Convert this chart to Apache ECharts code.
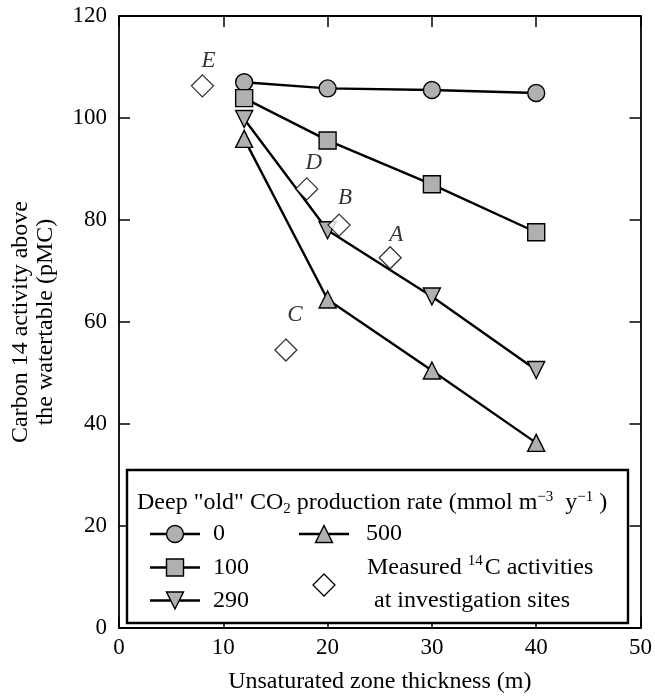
<!DOCTYPE html>
<html><head><meta charset="utf-8">
<script src="https://cdn.jsdelivr.net/npm/echarts@6/dist/echarts.min.js"></script>
<style>html,body{margin:0;padding:0;background:#fff}#c{width:655px;height:699px}</style>
</head><body><div id="c"></div>
<script>
// ---- data ----
const thickness = [12, 20, 30, 40];
const rate0   = [107.0, 105.8, 105.5, 104.9];
const rate100 = [103.9, 95.6, 87.0, 77.6];
const rate290 = [99.8, 78.0, 65.0, 50.6];
const rate500 = [95.9, 64.4, 50.5, 36.3];
const siteNames = ['A', 'B', 'C', 'D', 'E'];
const siteX = [26.0, 21.1, 16.0, 18.0, 8.0];
const siteY = [72.6, 79.0, 54.5, 86.1, 106.3];
const xTicks = [0, 10, 20, 30, 40, 50];
const yTicks = [0, 20, 40, 60, 80, 100, 120];

// ---- styling ----
const FONT = '"Liberation Serif", "DejaVu Serif", serif';
const GRAY = '#b0b0b0';
const labelOffsets = { A: [6, -23], B: [6, -27], C: [9, -35], D: [7, -26], E: [6, -25] };

const chart = echarts.init(document.getElementById('c'), null, { renderer: 'canvas' });

function lineSeries(name, ys, symbol, rotate) {
  return {
    name, type: 'line',
    data: thickness.map((x, i) => [x, ys[i]]),
    symbol, symbolSize: 17, symbolRotate: rotate || 0,
    showSymbol: true,
    lineStyle: { color: '#000', width: 2.4 },
    itemStyle: { color: GRAY, borderColor: '#000', borderWidth: 1.4 },
    z: 3, animation: false
  };
}

const axisCommon = {
  axisLine: { show: true, onZero: false, lineStyle: { color: '#000', width: 1.8 } },
  axisTick: { show: true, inside: true, length: 11, lineStyle: { color: '#000', width: 1.5 } },
  splitLine: { show: false }
};

const gx = 127, gy = 470, gw = 501, gh = 153;
const rowY = [534, 567.5, 600.5];
const c1 = 175, c2 = 324;
function seg(cx, cy) {
  return { type: 'line', shape: { x1: cx - 25, y1: cy, x2: cx + 25, y2: cy }, style: { stroke: '#000', lineWidth: 2.4 }, z: 101 };
}
const symStyle = { fill: GRAY, stroke: '#000', lineWidth: 1.4 };
function tri(cx, cy, up) {
  const h = 8.5;
  return { type: 'polygon', shape: { points: up ? [[cx, cy - h], [cx + h, cy + h], [cx - h, cy + h]] : [[cx - h, cy - h], [cx + h, cy - h], [cx, cy + h]] }, style: symStyle, z: 102 };
}
const LFONT = '24px ' + FONT;
const txt = (x, y, text, rich) => ({ type: 'text', x, y, z: 103,
  style: { text, font: LFONT, fill: '#000', verticalAlign: 'middle', align: 'left', rich: rich || undefined } });
const supStyle = { fontSize: 15, fontFamily: FONT, padding: [0, 0, 12, 0], fill: '#000' };
const subStyle = { fontSize: 15, fontFamily: FONT, padding: [12, 0, 0, 0], fill: '#000' };

const option = {
  animation: false,
  backgroundColor: '#fff',
  grid: { left: 117, right: 14, top: 16, bottom: 65 },
  xAxis: [
    Object.assign({}, axisCommon, {
      type: 'value', min: 0, max: 50, interval: 10, position: 'bottom',
      axisLabel: { fontFamily: FONT, fontSize: 23, color: '#000', margin: 8 },
      name: 'Unsaturated zone thickness (m)', nameLocation: 'middle', nameGap: 42,
      nameTextStyle: { fontFamily: FONT, fontSize: 24, color: '#000' }
    }),
    Object.assign({}, axisCommon, {
      type: 'value', min: 0, max: 50, interval: 10, position: 'top',
      axisLabel: { show: false }
    })
  ],
  yAxis: [
    Object.assign({}, axisCommon, {
      type: 'value', min: 0, max: 120, interval: 20, position: 'left',
      axisLabel: { fontFamily: FONT, fontSize: 23, color: '#000', margin: 12 },
      name: 'Carbon 14 activity above\nthe watertable (pMC)', nameLocation: 'middle', nameGap: 61,
      nameTextStyle: { fontFamily: FONT, fontSize: 24, color: '#000', lineHeight: 25 }
    }),
    Object.assign({}, axisCommon, {
      type: 'value', min: 0, max: 120, interval: 20, position: 'right',
      axisLabel: { show: false }
    })
  ],
  series: [
    lineSeries('0', rate0, 'circle'),
    lineSeries('100', rate100, 'rect'),
    lineSeries('290', rate290, 'triangle', 180),
    lineSeries('500', rate500, 'triangle'),
    {
      name: 'Measured', type: 'scatter',
      data: siteNames.map((n, i) => ({
        name: n, value: [siteX[i], siteY[i]],
        label: { show: true, position: 'inside', offset: labelOffsets[n], formatter: '{b}',
          fontFamily: FONT, fontStyle: 'italic', fontSize: 23, color: '#000', textBorderWidth: 0 }
      })),
      symbol: 'diamond', symbolSize: [22, 22],
      itemStyle: { color: '#fff', borderColor: '#000', borderWidth: 1.3 },
      z: 4
    }
  ],
  graphic: [
    { type: 'rect', shape: { x: gx, y: gy, width: gw, height: gh }, style: { fill: '#fff', stroke: '#000', lineWidth: 2.4 }, z: 100 },
    txt(137, 503, 'Deep "old" CO{sub|2} production rate (mmol m{sup|−3}  y{sup|−1} )', { sub: subStyle, sup: supStyle }),
    seg(c1, rowY[0]), { type: 'circle', shape: { cx: c1, cy: rowY[0], r: 8.5 }, style: symStyle, z: 102 }, txt(213, rowY[0], '0'),
    seg(c1, rowY[1]), { type: 'rect', shape: { x: c1 - 8.5, y: rowY[1] - 8.5, width: 17, height: 17 }, style: symStyle, z: 102 }, txt(213, rowY[1], '100'),
    seg(c1, rowY[2]), tri(c1, rowY[2], false), txt(213, rowY[2], '290'),
    seg(c2, rowY[0]), tri(c2, rowY[0], true), txt(366, rowY[0], '500'),
    { type: 'polygon', shape: { points: [[c2, 574], [c2 + 11, 585], [c2, 596], [c2 - 11, 585]] }, style: { fill: '#fff', stroke: '#000', lineWidth: 1.3 }, z: 102 },
    txt(367, rowY[1], 'Measured {sup|14}C activities', { sup: Object.assign({}, supStyle, { padding: [0, 2, 12, 0] }) }),
    txt(374, rowY[2], 'at investigation sites')
  ]
};
chart.setOption(option);
</script>
</body></html>
